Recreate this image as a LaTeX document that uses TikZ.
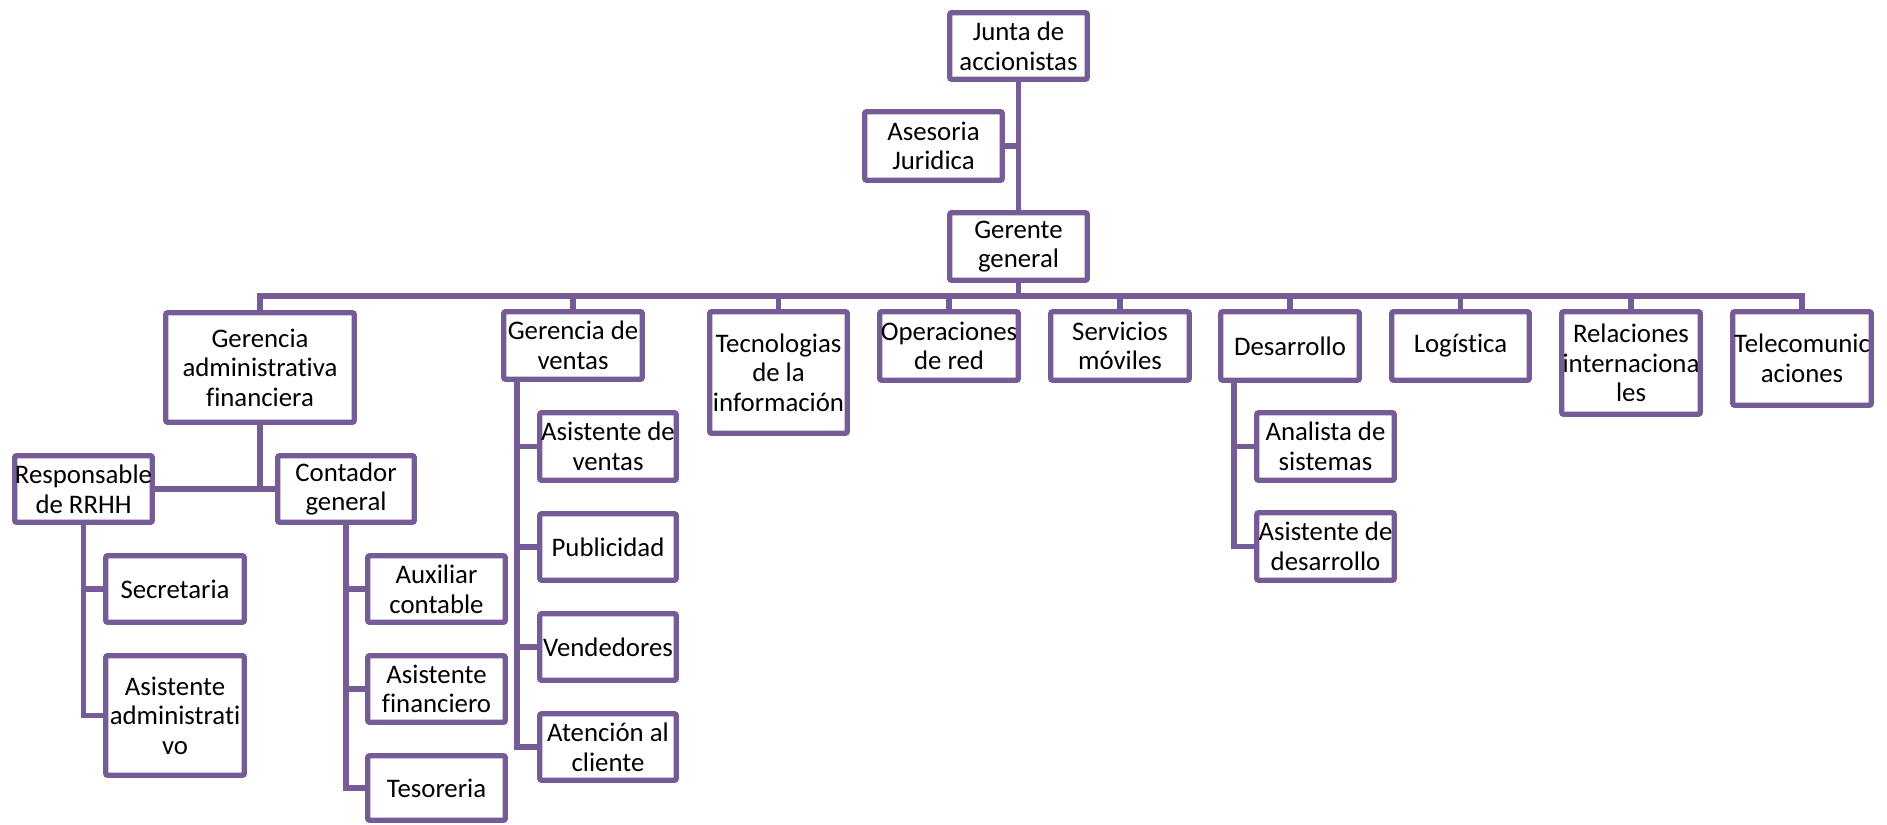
\documentclass[tikz,border=0pt]{standalone}
\usepackage{fontspec}
\setmainfont[Ligatures={NoCommon}]{Carlito}
\usetikzlibrary{calc}
\definecolor{orgpurple}{RGB}{118,92,150}
\tikzset{
  orgbox/.style={draw=orgpurple, line width=2.7pt, rounded corners=1pt, fill=white,
    inner sep=0pt, align=center, font=\fontsize{13.4}{14.8}\selectfont,
    minimum width=69pt, minimum height=34pt},
  orgline/.style={draw=orgpurple, line width=2.6pt}
}
\newcommand\ob[6]{\node[orgbox, minimum width={(#4-1)*0.5pt}, minimum height={(#5-1)*0.5pt}] (#1) at (#2,#3) {#6};}
\begin{document}
\begin{tikzpicture}[x=0.5pt, y=-0.5pt]
\useasboundingbox (0,0) rectangle (1887,825);
% top
\ob{junta}{1018.5}{46}{138.5}{67.5}{Junta de\\accionistas}
\ob{ases}{933.5}{146}{138.5}{69.5}{Asesoria\\Juridica}
\ob{ger}{1018.5}{246.5}{138.5}{68.5}{Gerente\\general}
% level 1
\ob{gaf}{260}{367.5}{189.5}{110.5}{Gerencia\\administrativa\\financiera}
\ob{gv}{573}{345.5}{139.5}{68.5}{Gerencia de\\ventas}
\ob{ti}{778.5}{372.5}{138.5}{122.5}{Tecnologias\\de la\\información}
\ob{op}{949}{346}{139.5}{69.5}{Operaciones\\de red}
\ob{serv}{1120}{346}{139.5}{69.5}{Servicios\\móviles}
\ob{des}{1290}{346}{139.5}{69.5}{Desarrollo}
\ob{log}{1460.5}{346}{138.5}{69.5}{Logística}
\ob{rel}{1631}{363}{139.5}{103.5}{Relaciones\\internaciona\\les}
\ob{tel}{1802}{358.5}{139.5}{94.5}{Telecomunic\\aciones}
% GAF children
\ob{resp}{83.5}{489}{138.5}{67.5}{Responsable\\de RRHH}
\ob{cont}{346}{489}{137.5}{67.5}{Contador\\general}
\ob{sec}{175}{589}{139.5}{67.5}{Secretaria}
\ob{asad}{175}{715.5}{139.5}{120.5}{Asistente\\administrati\\vo}
\ob{aux}{436.5}{589}{138.5}{67.5}{Auxiliar\\contable}
\ob{asfin}{436.5}{689}{138.5}{67.5}{Asistente\\financiero}
\ob{tes}{436.5}{788}{138.5}{65.5}{Tesoreria}
% GV children
\ob{asven}{608}{446.5}{137.5}{68.5}{Asistente de\\ventas}
\ob{pub}{608}{547}{137.5}{67.5}{Publicidad}
\ob{vend}{608}{647}{137.5}{67.5}{Vendedores}
\ob{aten}{608}{747}{137.5}{67.5}{Atención al\\cliente}
% Desarrollo children
\ob{ana}{1325.5}{446.5}{138.5}{68.5}{Analista de\\sistemas}
\ob{asdes}{1325.5}{546.5}{138.5}{68.5}{Asistente de\\desarrollo}
% connectors
\coordinate (busL) at (261,296);
\draw[orgline] (junta.south) -- (ger.north);
\draw[orgline] (ases.east) -- (ases.east -| junta.south);
\draw[orgline] (ger.south) -- (ger.south |- busL);
\draw[orgline] (gaf.north) -- (gaf.north |- busL) -- (tel.north |- busL) -- (tel.north);
\foreach \n in {gv,ti,op,serv,des,log,rel}{
  \draw[orgline] (\n.north) -- (\n.north |- busL);
}
% GAF
\draw[orgline] (gaf.south) -- (gaf.south |- resp.east);
\draw[orgline] (resp.east) -- (cont.west);
\draw[orgline] (resp.south) |- (asad.west);
\draw[orgline] (sec.west) -- (sec.west -| resp.south);
\draw[orgline] (cont.south) |- (tes.west);
\draw[orgline] (aux.west) -- (aux.west -| cont.south);
\draw[orgline] (asfin.west) -- (asfin.west -| cont.south);
% GV
\coordinate (gvl) at ([xshift=8pt]gv.south west);
\draw[orgline] (gvl) |- (aten.west);
\foreach \n in {asven,pub,vend}{
  \draw[orgline] (\n.west) -- (\n.west -| gvl);
}
% Desarrollo
\coordinate (desl) at ([xshift=8pt]des.south west);
\draw[orgline] (desl) |- (asdes.west);
\draw[orgline] (ana.west) -- (ana.west -| desl);
\end{tikzpicture}
\end{document}
